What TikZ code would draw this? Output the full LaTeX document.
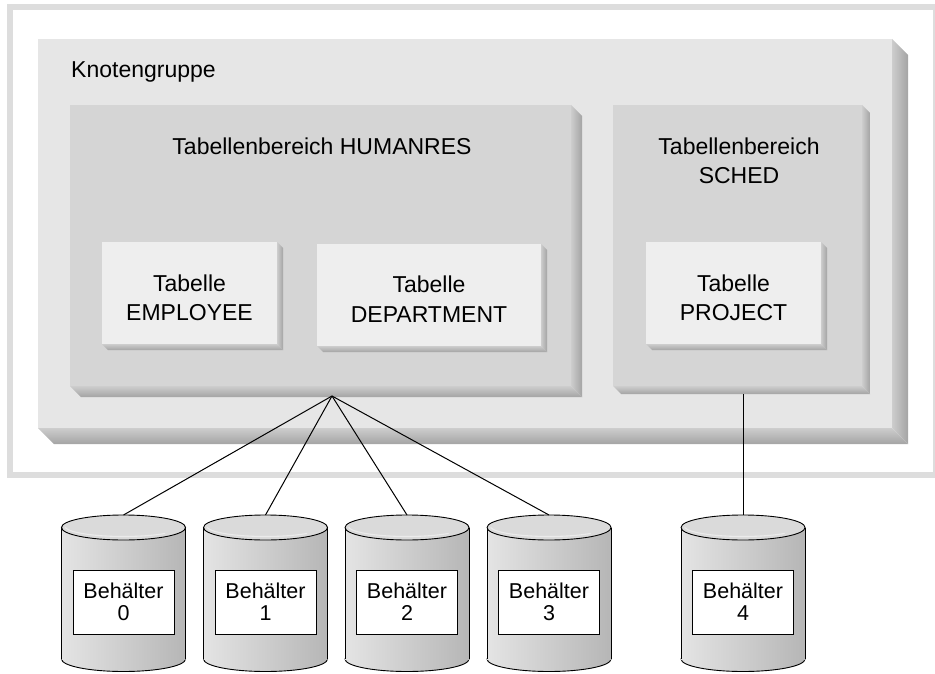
\documentclass[tikz,border=0pt]{standalone}
\usepackage{fontspec}
\setmainfont{Liberation Sans}
\usetikzlibrary{calc}

\definecolor{framegray}{HTML}{DDDDDD}
\definecolor{groupface}{HTML}{E6E6E6}
\definecolor{spaceface}{HTML}{D5D5D5}
\definecolor{tableface}{HTML}{EEEEEE}
\definecolor{edgelight}{HTML}{CDCDCD}
\definecolor{edgedark}{HTML}{A4A4A4}
\definecolor{drumL}{HTML}{E4E4E4}
\definecolor{drumR}{HTML}{B6B6B6}
\definecolor{drumtop}{HTML}{DADADA}

% extruded lower-right edge of a raised box (node name, depth)
\newcommand\dropedge[2]{%
  \shade[left color=edgelight, right color=edgedark]
    (#1.north east) -- ++(#2,#2) -- ($(#1.south east)+(#2,#2)$) -- (#1.south east) -- cycle;
  \shade[top color=edgelight, bottom color=edgedark]
    (#1.south west) -- (#1.south east) -- ++(#2,#2) -- ($(#1.south west)+(#2,#2)$) -- cycle;
}

% storage drum: centre x, name suffix, number
\newcommand\drum[3]{%
  \shade[left color=drumL, right color=drumR, draw=black, line width=0.9pt]
    (#1,659) ellipse[x radius=62, y radius=12.5];
  \shade[left color=drumL, right color=drumR] (#1-62,527.5) rectangle (#1+62,659);
  \draw[line width=0.9pt] (#1-62,527.5) -- (#1-62,659) (#1+62,527.5) -- (#1+62,659);
  \filldraw[fill=drumtop, line width=0.9pt] (#1,527.5) ellipse[x radius=62, y radius=12.5];
  \draw[white!92!black, line width=1.1pt]
    ($(#1,526)+(172:59 and 10.5)$) arc[start angle=172, end angle=45, x radius=59, y radius=10.5];
  \coordinate (t#2) at (#1,515);
  \node[binbox] (b#2) at (#1,602) {Behälter\\#3};
}

\begin{document}
\begin{tikzpicture}[x=1pt, y=-1pt,
  face/.style={inner sep=0pt, outer sep=0pt, draw=none},
  lbl/.style={font=\fontsize{23}{29.5}\selectfont, align=center, inner sep=0pt},
  binbox/.style={draw=black, fill=white, line width=0.9pt, minimum width=101pt,
                 minimum height=64pt, inner sep=0pt, align=center,
                 font=\fontsize{21.5}{22}\selectfont},
  link/.style={draw=black, line width=1pt}]

\useasboundingbox (0,0) rectangle (935,674);

% outer frame
\draw[framegray, line width=5.7pt] (9.8,7.2) rectangle (935.6,475.3);

% node group
\node[face, fill=groupface, minimum width=854pt, minimum height=389pt] (group) at (465,233.5) {};
\dropedge{group}{16}
\node[lbl, anchor=base west] (grouplbl) at (71,78) {Knotengruppe};

% table space HUMANRES
\node[face, fill=spaceface, minimum width=501pt, minimum height=281pt] (humanres) at (320.5,245.5) {};
\dropedge{humanres}{11}
\node[lbl] (humanreslbl) at (322,146) {Tabellenbereich HUMANRES};

\node[face, fill=tableface, minimum width=175pt, minimum height=102pt] (employee) at (189.5,293) {};
\dropedge{employee}{6}
\node[lbl] (employeelbl) at (189.5,298) {Tabelle\\EMPLOYEE};

\node[face, fill=tableface, minimum width=224pt, minimum height=102pt] (department) at (429,295) {};
\dropedge{department}{6}
\node[lbl] (departmentlbl) at (429,299) {Tabelle\\DEPARTMENT};

% table space SCHED
\node[face, fill=spaceface, minimum width=249pt, minimum height=281pt] (sched) at (737.5,245.5) {};
\dropedge{sched}{8}
\node[lbl] (schedlbl) at (739,161) {Tabellenbereich\\SCHED};

\node[face, fill=tableface, minimum width=175pt, minimum height=102pt] (project) at (733.5,293) {};
\dropedge{project}{6}
\node[lbl] (projectlbl) at (733.5,298) {Tabelle\\PROJECT};

% containers
\drum{123.5}{0}{0}
\drum{265.5}{1}{1}
\drum{407}{2}{2}
\drum{549}{3}{3}
\drum{743}{4}{4}

% connectors
\coordinate (fan) at (332,396);
\coordinate (schedfoot) at (743,394);
\foreach \i in {0,1,2,3} \draw[link] (fan) -- (t\i);
\draw[link] (schedfoot) -- (t4);

\end{tikzpicture}
\end{document}
